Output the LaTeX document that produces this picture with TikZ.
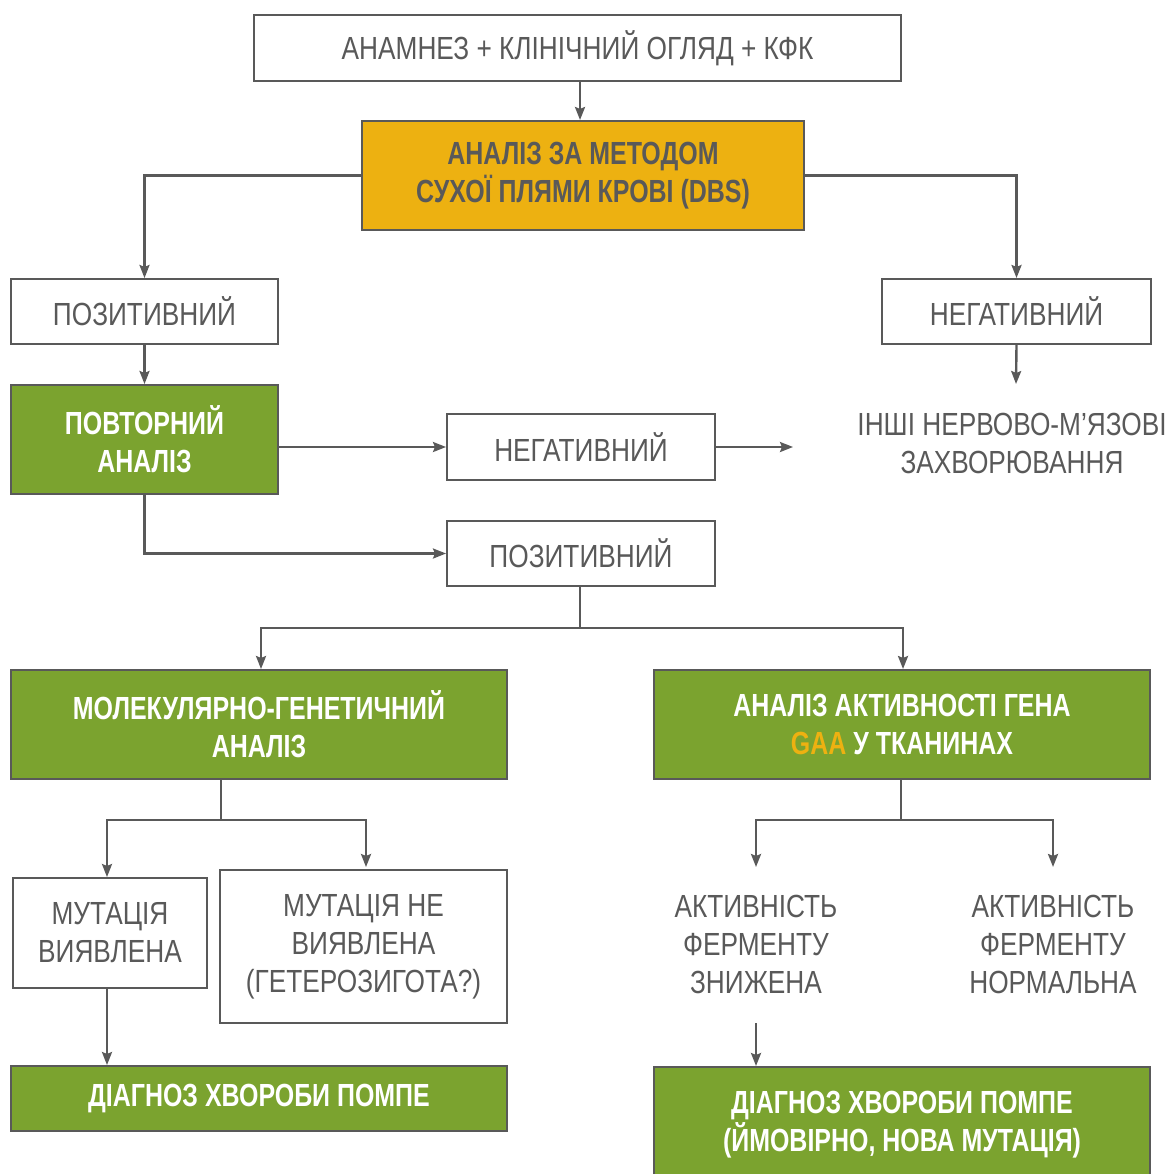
\documentclass[tikz,border=0pt]{standalone}
\usepackage{fontspec}
\setmainfont{Liberation Sans}
\newfontfamily\regf{Liberation Sans}[FakeStretch=0.82]
\newfontfamily\boldf{Liberation Sans}[FakeStretch=0.78]
\usetikzlibrary{arrows.meta}
\definecolor{ink}{HTML}{595959}
\definecolor{dbsyellow}{HTML}{EDB111}
\definecolor{leaf}{HTML}{7BA32F}
\tikzset{
  base/.style={draw=ink, line width=2pt, rectangle, inner sep=0pt, align=center},
  plain/.style={base, fill=white, text=ink, font=\regf\fontsize{32}{38}\selectfont},
  yel/.style={base, fill=dbsyellow, text=ink, font=\boldf\bfseries\fontsize{32}{38}\selectfont},
  grn/.style={base, fill=leaf, text=white, font=\boldf\bfseries\fontsize{32}{38}\selectfont},
  free/.style={text=ink, align=center, inner sep=0pt, font=\regf\fontsize{32}{38}\selectfont},
  conn/.style={draw=ink, line width=2.4pt, -{Stealth[length=13pt,width=10pt,inset=2pt]}},
  link/.style={draw=ink, line width=2.4pt},
}
\begin{document}
\begin{tikzpicture}[x=1pt,y=-1pt]
\useasboundingbox (0,0) rectangle (1170,1174);
\begin{scope}
\clip (0,0) rectangle (1170,1174);
% boxes
\node[plain, minimum width=647pt, minimum height=66pt] (top) at (577.5,48) {АНАМНЕЗ + КЛІНІЧНИЙ ОГЛЯД + КФК};
\node[yel, minimum width=442pt, minimum height=109pt] (dbs) at (583,175.5) {АНАЛІЗ ЗА МЕТОДОМ\\СУХОЇ ПЛЯМИ КРОВІ (DBS)};
\node[plain, minimum width=267pt, minimum height=65pt] (posL) at (144.5,311.5) {ПОЗИТИВНИЙ};
\node[plain, minimum width=269pt, minimum height=65pt] (negR) at (1016.5,311.5) {НЕГАТИВНИЙ};
\node[grn, minimum width=267pt, minimum height=109pt] (rep) at (144.5,439.5) {ПОВТОРНИЙ\\АНАЛІЗ};
\node[plain, minimum width=268pt, minimum height=66pt] (negM) at (581,447) {НЕГАТИВНИЙ};
\node[plain, minimum width=268pt, minimum height=65pt] (posM) at (581,553.5) {ПОЗИТИВНИЙ};
\node[free] (other) at (1012,443) {ІНШІ НЕРВОВО-М’ЯЗОВІ\\ЗАХВОРЮВАННЯ};
\node[grn, minimum width=496pt, minimum height=109pt] (mol) at (259,724.5) {МОЛЕКУЛЯРНО-ГЕНЕТИЧНИЙ\\АНАЛІЗ};
\node[grn, minimum width=496pt, minimum height=109pt] (act) at (902,724.5) {АНАЛІЗ АКТИВНОСТІ ГЕНА\\{\color{dbsyellow}GAA} У ТКАНИНАХ};
\node[plain, minimum width=194pt, minimum height=110pt] (mutY) at (110,933) {МУТАЦІЯ\\ВИЯВЛЕНА};
\node[plain, minimum width=287pt, minimum height=153pt] (mutN) at (363.5,946.5) {МУТАЦІЯ НЕ\\ВИЯВЛЕНА\\(ГЕТЕРОЗИГОТА?)};
\node[free] (low) at (756,944) {АКТИВНІСТЬ\\ФЕРМЕНТУ\\ЗНИЖЕНА};
\node[free] (norm) at (1053,944) {АКТИВНІСТЬ\\ФЕРМЕНТУ\\НОРМАЛЬНА};
\node[grn, minimum width=496pt, minimum height=65pt] (diagL) at (259,1098.5) {ДІАГНОЗ ХВОРОБИ ПОМПЕ};
\node[grn, minimum width=496pt, minimum height=116pt] (diagR) at (902,1125) {ДІАГНОЗ ХВОРОБИ ПОМПЕ\\(ЙМОВІРНО, НОВА МУТАЦІЯ)};
\end{scope}
% free ends / junctions
\coordinate (negRend) at (1016,384);
\coordinate (negMend) at (793,447);
\coordinate (j1) at (580,628);
\coordinate (j2) at (221,820);
\coordinate (j3) at (901,820);
\coordinate (mutNtop) at (366,867);
\coordinate (lowtop) at (756,867);
\coordinate (normtop) at (1053,867);
\coordinate (lowbot) at (756,1023);
% connectors
\draw[conn] (top.south -| 580,0) -- (dbs.north -| 580,0);
\draw[conn] (dbs.west) -| (posL.north);
\draw[conn] (dbs.east) -| (negR.north);
\draw[conn] (posL.south) -- (rep.north);
\draw[conn] (negR.south) -- (negRend);
\draw[conn] (rep.east |- negM.west) -- (negM.west);
\draw[conn] (negM.east) -- (negMend);
\draw[conn] (rep.south) |- (posM.west);
\draw[link] (posM.south -| j1) -- (j1);
\draw[conn] (j1) -| (mol.north -| 261,0);
\draw[conn] (j1) -| (act.north -| 903,0);
\draw[link] (mol.south -| j2) -- (j2);
\draw[conn] (j2) -| (mutY.north -| 107,0);
\draw[conn] (j2) -| (mutNtop);
\draw[link] (act.south -| j3) -- (j3);
\draw[conn] (j3) -| (lowtop);
\draw[conn] (j3) -| (normtop);
\draw[conn] (mutY.south -| 107,0) -- (diagL.north -| 107,0);
\draw[conn] (lowbot) -- (diagR.north -| lowbot);
\end{tikzpicture}
\end{document}
